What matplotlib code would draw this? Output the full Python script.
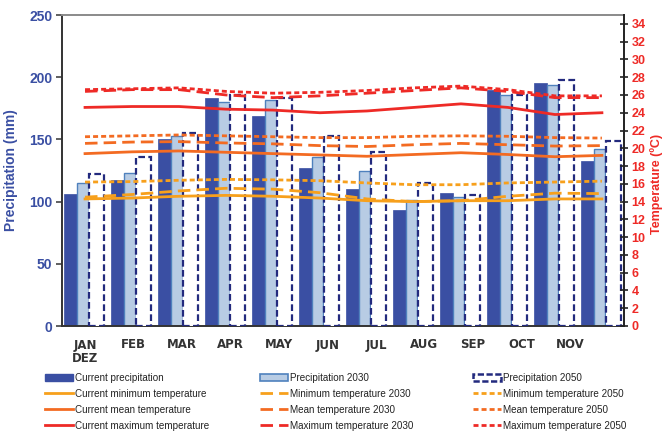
import numpy as np
import matplotlib.pyplot as plt
from matplotlib.patches import Patch
from matplotlib.lines import Line2D

plt.rcParams['font.family'] = ['Liberation Sans', 'DejaVu Sans']

# month labels (the chart only shows 11 labels for 12 groups)
months = ['JAN\nDEZ', 'FEB', 'MAR', 'APR', 'MAY', 'JUN', 'JUL', 'AUG', 'SEP', 'OCT', 'NOV']

# precipitation (mm), 12 groups
prec_now = [106, 117, 150, 183, 169, 127, 110, 93, 107, 190, 195, 133]
prec_2030 = [115, 123, 153, 180, 182, 136, 125, 101, 104, 186, 194, 142]
prec_2050 = [122, 136, 155, 186, 183, 153, 140, 115, 105, 186, 198, 149]

# temperatures (C)
tmin_now = [14.3, 14.4, 14.6, 14.7, 14.6, 14.4, 14.1, 14.0, 14.1, 14.1, 14.3, 14.3]
tmin_2030 = [14.5, 14.8, 15.2, 15.5, 15.4, 15.0, 14.3, 14.0, 14.1, 14.6, 14.95, 14.9]
tmin_2050 = [16.2, 16.25, 16.4, 16.5, 16.45, 16.35, 16.1, 15.9, 15.9, 16.1, 16.2, 16.3]
tmean_now = [19.4, 19.6, 19.7, 19.55, 19.4, 19.25, 19.1, 19.3, 19.5, 19.3, 19.05, 19.2]
tmean_2030 = [20.55, 20.7, 20.75, 20.6, 20.5, 20.3, 20.2, 20.4, 20.55, 20.4, 20.25, 20.3]
tmean_2050 = [21.3, 21.4, 21.5, 21.4, 21.3, 21.2, 21.2, 21.35, 21.4, 21.35, 21.2, 21.15]
tmax_now = [24.6, 24.7, 24.7, 24.4, 24.3, 24.0, 24.2, 24.6, 25.0, 24.6, 23.8, 24.0]
tmax_2030 = [26.4, 26.6, 26.6, 26.0, 25.7, 25.9, 26.2, 26.5, 26.8, 26.4, 25.7, 25.7]
tmax_2050 = [26.6, 26.7, 26.8, 26.4, 26.2, 26.3, 26.5, 26.8, 27.0, 26.6, 25.9, 25.9]

c_now = '#3a4fa3'
c_2030 = '#b8cce4'
c_2030e = '#4f81bd'
c_2050e = '#232a7e'
c_min = '#f7a01c'
c_mean = '#f36b22'
c_max = '#ee2a26'
blue_txt = '#3a4fa3'
red_txt = '#ee2a26'

fig = plt.figure(figsize=(6.65, 4.33), dpi=100)
ax = fig.add_axes([62/665, 1-326/433, (624-62)/665, (326-15)/433])

x = np.arange(len(prec_now))
ax.bar(x - 0.31, prec_now, width=0.28, color=c_now, edgecolor=c_now, lw=0.5, zorder=2)
ax.bar(x - 0.05, prec_2030, width=0.25, color=c_2030, edgecolor=c_2030e, lw=1.0, zorder=2)
ax.bar(x + 0.245, prec_2050, width=0.33, color='white', edgecolor=c_2050e, lw=1.6,
       linestyle=(0, (3, 1.5)), zorder=3)

ax.set_xlim(-0.49, 11.47)
ax.set_ylim(0, 250)
ax.set_yticks(np.arange(0, 251, 50))
ax.set_xticks(np.arange(len(months)) * 1.032)
ax.set_xticklabels(months, fontsize=8.5, fontweight='bold', color='#333333',
                   family='DejaVu Sans', linespacing=1.05)
ax.tick_params(axis='x', length=0, pad=9)
ax.tick_params(axis='y', length=4, width=1.2, color='#444444', labelsize=10,
               labelcolor=blue_txt, pad=3)
for t in ax.get_yticklabels():
    t.set_fontweight('bold')
ax.set_ylabel('Precipitation (mm)', color=blue_txt, fontsize=10, fontweight='bold', labelpad=8)

for s in ['left', 'bottom']:
    ax.spines[s].set_color('#333333')
    ax.spines[s].set_linewidth(1.4)
ax.spines['top'].set_color('#8a8a8a')
ax.spines['top'].set_linewidth(1.4)
ax.spines['right'].set_visible(False)

ax2 = ax.twinx()
ax2.set_ylim(0, 35)
ax2.set_yticks(np.arange(0, 35, 2))
ax2.tick_params(axis='y', direction='inout', length=6, width=1.2, color='#222222',
                labelsize=9, labelcolor=red_txt, pad=2.5)
for t in ax2.get_yticklabels():
    t.set_fontweight('bold')
for s in ['left', 'top', 'bottom']:
    ax2.spines[s].set_visible(False)
ax2.spines['right'].set_color('#222222')
ax2.spines['right'].set_linewidth(1.4)
fig.text(657/665, 1-184/433, 'Temperature (ºC)', rotation=90, ha='center', va='center',
         color=red_txt, fontsize=9, fontweight='bold')

dash30 = (0, (4.5, 2.2))
dot50 = (0, (1.8, 1.1))
lw = 2.0
ax2.plot(x, tmin_now, color=c_min, lw=lw)
ax2.plot(x, tmin_2030, color=c_min, lw=lw, linestyle=dash30)
ax2.plot(x, tmin_2050, color=c_min, lw=lw, linestyle=dot50)
ax2.plot(x, tmean_now, color=c_mean, lw=lw)
ax2.plot(x, tmean_2030, color=c_mean, lw=lw, linestyle=dash30)
ax2.plot(x, tmean_2050, color=c_mean, lw=lw, linestyle=dot50)
ax2.plot(x, tmax_now, color=c_max, lw=lw)
ax2.plot(x, tmax_2030, color=c_max, lw=lw, linestyle=dash30)
ax2.plot(x, tmax_2050, color=c_max, lw=lw, linestyle=dot50)

cols = [
    [Patch(facecolor=c_now, edgecolor=c_now),
     Line2D([], [], color=c_min, lw=lw),
     Line2D([], [], color=c_mean, lw=lw),
     Line2D([], [], color=c_max, lw=lw)],
    [Patch(facecolor=c_2030, edgecolor=c_2030e, lw=1.2),
     Line2D([], [], color=c_min, lw=lw, linestyle=dash30),
     Line2D([], [], color=c_mean, lw=lw, linestyle=dash30),
     Line2D([], [], color=c_max, lw=lw, linestyle=dash30)],
    [Patch(facecolor='white', edgecolor=c_2050e, lw=1.8, linestyle=(0, (2.5, 1))),
     Line2D([], [], color=c_min, lw=lw, linestyle=dot50),
     Line2D([], [], color=c_mean, lw=lw, linestyle=dot50),
     Line2D([], [], color=c_max, lw=lw, linestyle=dot50)],
]
labels = [
    ['Current precipitation', 'Current minimum temperature',
     'Current mean temperature', 'Current maximum temperature'],
    ['Precipitation 2030', 'Minimum temperature 2030',
     'Mean temperature 2030', 'Maximum temperature 2030'],
    ['Precipitation 2050', 'Minimum temperature 2050',
     'Mean temperature 2050', 'Maximum temperature 2050'],
]
xs = [45, 260, 473]
for hx, h, l in zip(xs, cols, labels):
    fig.legend(h, l, loc='upper left', bbox_to_anchor=(hx/665, 1-373/433),
               frameon=False, fontsize=7.1, handlelength=2.8, handletextpad=0.25,
               labelspacing=0.6, borderpad=0, borderaxespad=0, labelcolor='#222222')

fig.savefig('out.png', dpi=100)
